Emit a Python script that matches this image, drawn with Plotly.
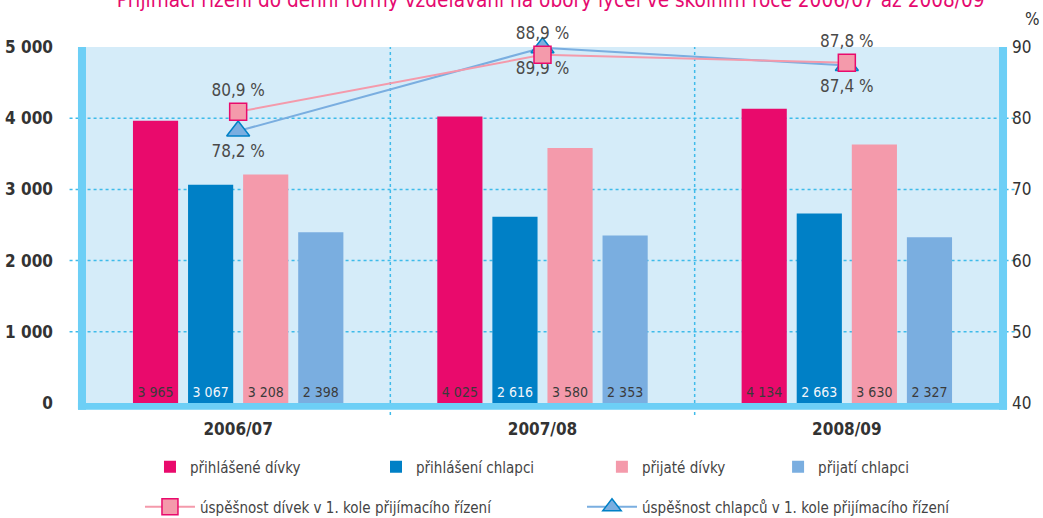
import plotly.graph_objects as go

# Data
roky = ['2006/07', '2007/08', '2008/09']
prihlasene_divky = [3965, 4025, 4134]
prihlaseni_chlapci = [3067, 2616, 2663]
prijate_divky = [3208, 3580, 3630]
prijati_chlapci = [2398, 2353, 2327]
uspesnost_divek = [80.9, 88.9, 87.8]
uspesnost_chlapcu = [78.2, 89.9, 87.4]

FONT = "DejaVu Sans Condensed, Liberation Sans Narrow, sans-serif"
TXT = '#3a3a3a'
CYAN = '#6dcff6'
GRID = '#3fbbea'

fig = go.Figure()

bary = [
    ('přihlášené dívky', prihlasene_divky, '#e90a6c', TXT, 'legend'),
    ('přihlášení chlapci', prihlaseni_chlapci, '#0080c6', '#f2f6fb', 'legend2'),
    ('přijaté dívky', prijate_divky, '#f49aab', TXT, 'legend3'),
    ('přijatí chlapci', prijati_chlapci, '#7aaee0', TXT, 'legend4'),
]
for nazev, hodnoty, barva, barva_textu, leg in bary:
    fig.add_trace(go.Bar(
        x=roky, y=hodnoty, name=nazev,
        marker=dict(color=barva, line=dict(width=0)),
        texttemplate='%{y:,.0f}', textposition='inside',
        insidetextanchor='start', textangle=0,
        textfont=dict(family=FONT, size=14, color=barva_textu),
        legend=leg,
    ))

# chlapci pod dívkami (čtverec leží přes trojúhelník)
fig.add_trace(go.Scatter(
    x=roky, y=uspesnost_chlapcu, yaxis='y2', name='úspěšnost chlapců v 1. kole přijímacího řízení',
    mode='lines+markers+text',
    line=dict(color='#7aaee0', width=2),
    marker=dict(symbol='triangle-up', size=20, color='#7aaee0', line=dict(color='#0080c6', width=1.5)),
    texttemplate='%{y:.1f} %', textposition='bottom center',
    textfont=dict(family=FONT, size=17, color='#4a4a4a'),
    cliponaxis=False, legend='legend6',
))
fig.add_trace(go.Scatter(
    x=roky, y=uspesnost_divek, yaxis='y2', name='úspěšnost dívek v 1. kole přijímacího řízení',
    mode='lines+markers+text',
    line=dict(color='#f49aab', width=2),
    marker=dict(symbol='square', size=17, color='#f49aab', line=dict(color='#e90a6c', width=1.5)),
    texttemplate='%{y:.1f} %', textposition='top center',
    textfont=dict(family=FONT, size=17, color='#4a4a4a'),
    cliponaxis=False, legend='legend5',
))

# dotted grid lines and frame
shapes = []
for v in [1000, 2000, 3000, 4000]:
    shapes.append(dict(type='line', xref='paper', yref='y', x0=-0.018, x1=1.018, y0=v, y1=v,
                       line=dict(color=GRID, width=1.5, dash='dot'), layer='below'))
for xv in [0.5, 1.5]:
    shapes.append(dict(type='line', xref='x', yref='paper', x0=xv, x1=xv, y0=-0.034, y1=1,
                       line=dict(color=GRID, width=1.5, dash='dot'), layer='below'))
shapes += [
    dict(type='rect', xref='paper', yref='paper', x0=-0.0088, x1=0, y0=-0.019, y1=1,
         fillcolor=CYAN, line=dict(width=0), layer='above'),
    dict(type='rect', xref='paper', yref='paper', x0=1, x1=1.0088, y0=-0.019, y1=1,
         fillcolor=CYAN, line=dict(width=0), layer='above'),
    dict(type='rect', xref='paper', yref='paper', x0=-0.0088, x1=1.0088, y0=-0.019, y1=0,
         fillcolor=CYAN, line=dict(width=0), layer='above'),
]

leg_base = dict(orientation='h', bgcolor='rgba(0,0,0,0)', yanchor='middle', xanchor='left',
                xref='container', yref='container',
                font=dict(family=FONT, size=15, color='#444444'))
legendy = {
    'legend': (0.1438, 0.0985, 30), 'legend2': (0.3605, 0.0985, 30),
    'legend3': (0.5771, 0.0985, 30), 'legend4': (0.746, 0.0985, 30),
    'legend5': (0.1342, 0.0212, 50), 'legend6': (0.558, 0.0212, 50),
}

fig.update_layout(
    width=1043, height=518,
    margin=dict(l=86, r=44, t=47, b=115, autoexpand=False),
    paper_bgcolor='white', plot_bgcolor='#d5ecf9',
    separators=', ',
    showlegend=True,
    barmode='group', bargap=0.276, bargroupgap=0.18,
    font=dict(family=FONT, color=TXT),
    title=dict(text='Přijímací řízení do denní formy vzdělávání na obory lyceí ve školním roce 2006/07 až 2008/09',
               x=0.509, xanchor='center', xref='paper', y=1, yref='container', yanchor='middle',
               font=dict(family=FONT, size=20.6, color='#e5096f')),
    xaxis=dict(showgrid=False, zeroline=False, showline=False, ticks='', automargin=False,
               ticklabelstandoff=14,
               tickfont=dict(family=FONT, size=17, color='#333333', weight='bold')),
    yaxis=dict(range=[0, 5000], dtick=1000, tickformat=',d', showgrid=False, zeroline=False,
               ticks='', ticklabelstandoff=32, automargin=False,
               tickfont=dict(family=FONT, size=17, color='#333333', weight='bold')),
    yaxis2=dict(range=[40, 90], dtick=10, overlaying='y', side='right', showgrid=False,
                zeroline=False, ticks='', ticklabelstandoff=12, automargin=False,
                tickfont=dict(family=FONT, size=17, color='#333333')),
    shapes=shapes,
    annotations=[dict(text='%', xref='paper', yref='paper', x=1.026, y=1.08, xanchor='left',
                      yanchor='middle', showarrow=False,
                      font=dict(family=FONT, size=17, color='#333333'))],
    **{k: dict(leg_base, x=v[0], y=v[1], itemwidth=v[2]) for k, v in legendy.items()},
)

# bez okraje stránky, aby graf začínal v levém horním rohu
fig.write_html("out.html", config={'displayModeBar': False},
               post_script="document.body.style.margin='0';")
